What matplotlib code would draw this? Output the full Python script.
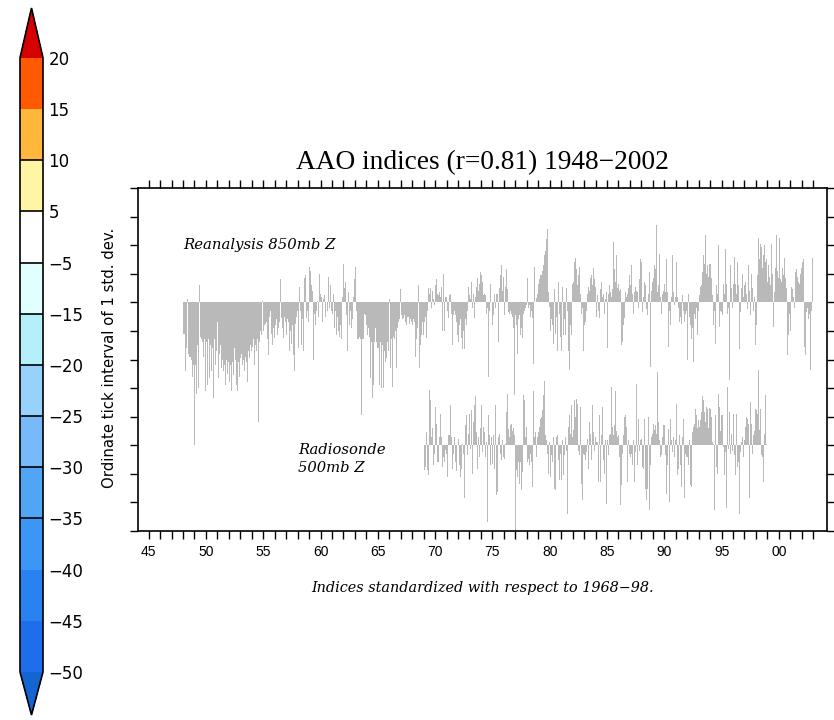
import numpy as np
import matplotlib
matplotlib.use("Agg")
import matplotlib.pyplot as plt
from matplotlib.colors import ListedColormap, BoundaryNorm
from matplotlib.cm import ScalarMappable

# ---------------- data ----------------
reanalysis_start_year = 1948
reanalysis_850mb = [
    # 1948
    -1.1, -1.1, -2.4, -1.6, 0.1, -1.8, -1.9, -1.9, -2.0, -2.6, -2.2, -3.6,
    # 1949
    -5.0, -2.2, -3.2, -1.5, -3.0, 0.6, -1.2, -1.3, -1.4, -1.9, -1.3, -3.1,
    # 1950
    -1.4, -2.9, -1.3, -2.65, -1.5, -2.4, -1.6, -3.35, -1.3, -1.15, -2.2, -1.7,
    # 1951
    -0.7, -2.65, -1.8, -1.5, -2.3, -2.0, -2.4, -2.2, -2.9, -2.0, -2.5, -2.1,
    # 1952
    -2.8, -2.2, -3.1, -2.1, -2.55, -1.6, -2.0, -2.9, -2.3, -3.1, -2.1, -2.6,
    # 1953
    -1.95, -1.8, -2.2, -2.0, -2.4, -1.9, -2.1, -2.8, -1.7, -1.95, -1.5, -1.7,
    # 1954
    -1.55, -1.3, -2.2, -1.5, -1.7, -1.3, -1.2, -4.2, -1.4, -1.0, -1.15, 0.05,
    # 1955
    -1.0, -0.8, -0.75, -0.7, -1.3, -1.85, -0.5, -0.3, -1.1, -1.5, -0.9, -1.25,
    # 1956
    -0.8, -0.6, -1.15, -0.9, -1.4, -0.7, 0.8, -0.55, -0.9, -1.25, -0.5, -0.7,
    # 1957
    -1.15, -0.6, -0.7, -1.7, -1.0, -1.45, -0.8, -1.85, -2.4, -0.75, -0.5, -0.3,
    # 1958
    -1.6, 0.55, -0.45, -0.3, -1.5, -0.6, -1.7, 0.85, 0.95, -0.55, -0.3, -0.7,
    # 1959
    1.25, 1.1, 0.6, 0.4, -2.0, -0.4, -0.8, -0.3, 0.05, -0.5, 1.0, 0.3,
    # 1960
    0.4, 0.2, -0.7, 0.1, 0.25, -0.5, 0.0, -0.3, 0.9, -0.2, 0.6, -0.3,
    # 1961
    -0.4, 0.3, -0.9, -0.3, -1.15, -0.5, -1.0, -1.2, -0.8, -1.3, -1.3, 0.2,
    # 1962
    1.35, 0.5, 0.7, -0.45, -1.7, 0.35, -0.8, -0.3, -0.9, -0.6, 0.2, 0.8,
    # 1963
    1.25, -0.3, -1.3, -1.3, -1.2, -1.3, -3.95, -1.3, -1.3, -1.3, -0.4, -0.45,
    # 1964
    -0.8, -1.15, -0.9, -1.2, -2.65, -1.4, -3.35, -2.9, -1.4, -0.9, -1.4, -1.6,
    # 1965
    -1.6, -2.9, -1.4, -3.0, -1.5, -3.0, -1.7, -1.5, -2.1, -1.95, -1.4, -1.7,
    # 1966
    0.1, -2.3, -1.3, -2.95, -1.2, -1.3, -1.0, -2.3, -0.9, -0.7, -0.6, 0.45,
    # 1967
    -0.45, -0.6, -0.55, -0.45, -0.7, -0.65, -0.8, -0.5, -0.5, -0.75, -0.6, -0.7,
    # 1968
    -0.8, -0.6, -0.7, -1.9, -1.3, -0.9, 0.6, -2.3, -1.5, -1.15, -0.7, -1.15,
    # 1969
    -0.7, -0.5, -1.25, -0.8, -0.3, 0.5, 0.3, 0.5, -0.2, 0.4, 0.1, -0.1,
    # 1970
    0.6, 0.8, 0.3, 0.25, 0.35, 0.2, 0.55, -1.0, 1.0, -1.0, 0.2, 0.2,
    # 1971
    -0.3, -0.2, -0.55, 0.25, 0.3, -0.4, -1.5, -0.45, -0.3, -0.45, -0.7, -1.15,
    # 1972
    -1.4, -0.8, -0.6, -1.25, -1.65, -1.0, -1.65, -0.6, -0.8, -0.3, 0.55, -1.0,
    # 1973
    0.25, 0.1, 0.7, -0.2, 0.3, -0.55, 0.2, 0.55, 0.85, 0.4, 0.65, 1.05,
    # 1974
    0.95, 0.7, 0.25, 0.3, 0.25, -0.4, -0.2, -2.6, -0.3, 0.65, 0.3, 0.0,
    # 1975
    -0.8, -0.45, 0.3, -0.2, 0.3, 0.3, -1.4, 0.5, 0.95, 1.3, 0.4, 0.9,
    # 1976
    -0.45, 0.55, 1.15, 0.45, -0.35, -0.4, -0.3, -0.4, -0.55, -0.5, -0.9, -3.25,
    # 1977
    -0.45, -0.8, -1.8, -0.6, -0.45, -1.15, -0.9, -1.25, -0.4, -0.3, -0.2, -0.1,
    # 1978
    0.85, -0.2, -0.1, -0.5, -0.3, -0.55, -0.4, -2.15, 1.25, 0.0, 0.15, 0.3,
    # 1979
    0.65, 0.8, 0.95, 0.95, 1.1, 1.3, 1.65, 1.8, 2.2, 2.55, 0.35, -0.15,
    # 1980
    -1.0, -0.6, -0.8, -1.45, -1.55, 0.45, -1.1, -0.5, -1.7, 0.7, -0.4, -1.2,
    # 1981
    -1.7, 0.55, -1.15, -0.6, -1.15, 0.5, -0.3, -1.7, -2.35, -0.8, -1.15, 0.65,
    # 1982
    0.7, 1.4, 1.3, 1.55, 1.15, 0.6, 0.95, 1.25, 0.3, -0.4, -0.2, -1.7,
    # 1983
    -0.8, -0.7, -0.3, 0.3, 0.55, 0.4, 0.85, 0.95, 0.6, 1.2, 0.8, 0.55,
    # 1984
    -0.45, -0.5, 0.25, -0.3, -0.55, 0.45, 0.7, 0.2, 0.3, -0.4, 0.1, 0.35,
    # 1985
    -1.6, 0.3, 0.6, 0.35, 0.2, 0.45, 2.1, 1.15, 0.7, 1.65, 0.5, 0.95,
    # 1986
    0.65, 0.4, 0.45, -1.5, -1.4, -0.8, -0.55, 0.35, 0.2, 0.3, 0.5, 0.95,
    # 1987
    0.6, 1.3, 0.3, -0.4, 0.35, 0.55, 0.4, 0.35, -0.2, 1.3, 0.8, 1.5,
    # 1988
    1.4, -0.35, 0.2, 0.7, 0.6, -0.25, -0.45, 0.3, 1.05, -2.25, 0.4, 0.7,
    # 1989
    0.85, 1.3, 1.15, 2.7, 0.35, 0.6, 1.7, 0.5, 0.2, -0.4, 0.3, 0.4,
    # 1990
    0.65, 0.35, 1.5, 0.35, -1.55, -0.3, -0.8, 0.2, 1.65, 0.35, -0.1, 0.2,
    # 1991
    1.4, 0.2, -0.2, -0.7, -0.5, -0.7, -0.75, 0.25, -0.3, -0.7, -0.4, -0.3,
    # 1992
    -2.0, 0.3, -0.5, -0.8, -1.3, -0.9, -2.1, -0.4, -0.6, -0.2, -1.15, -0.3,
    # 1993
    0.25, 0.55, 0.6, 0.8, 1.05, 1.65, 1.35, 2.35, 1.0, 1.3, 0.9, 1.35,
    # 1994
    1.35, 0.85, 0.25, -0.8, -0.3, -1.45, 0.6, 0.3, 2.0, -0.85, -0.3, -0.35,
    # 1995
    -0.45, 1.9, 0.65, 0.3, 1.85, 0.65, -0.4, -0.2, -2.7, 1.3, 0.5, -0.2,
    # 1996
    0.65, 1.6, 0.65, 0.3, 1.4, 0.6, -1.65, -0.35, 0.5, 1.0, 0.2, -1.3,
    # 1997
    0.6, 0.7, 0.3, -0.25, 1.3, 0.4, -0.45, 1.0, 0.5, -0.3, 0.2, -1.5,
    # 1998
    -0.8, 0.95, 2.25, 1.5, 2.05, 1.95, 1.2, 1.65, 2.0, 1.4, 1.85, 1.5,
    # 1999
    0.7, 1.3, 0.9, 0.6, 2.05, 1.0, -0.85, 0.35, 1.2, 2.35, 1.1, 0.85,
    # 2000
    2.25, 0.8, 0.7, 1.2, 0.95, 1.55, 0.85, 0.5, -0.2, -1.85, -1.15, -0.4,
    # 2001
    -1.0, 0.55, 0.45, 0.2, -0.2, 1.05, 1.15, 0.9, 0.7, 0.65, 1.0, 1.2,
    # 2002
    1.4, 1.5, -1.55, -1.85, -0.35, -0.2, -0.7, -0.6, -0.4, -2.35, -0.3, 1.55,
]

radiosonde_start_year = 1969
radiosonde_500mb = [
    # 1969
    -0.87, -0.76, 0.47, 0.29, -0.87, -1.05, 1.92, 1.57, 0.29, 0.6, -0.7, -0.3,
    # 1970
    1.34, 0.76, -0.58, -0.58, 0.29, 1.1, 0.3, -0.76, -0.41, -0.6, -0.17, -0.3,
    # 1971
    -1.1, -0.7, 0.35, 0.35, 1.4, 0.29, -0.82, -0.3, 0.29, -0.58, -0.9, 0.0,
    # 1972
    0.23, -0.7, -1.1, -0.82, 0.05, -0.3, -1.86, 0.7, 1.05, -0.35, 0.4, 0.1,
    # 1973
    1.1, -0.12, 1.22, -1.0, 0.82, 1.4, 1.72, 0.47, -0.82, 0.3, -0.4, 0.6,
    # 1974
    1.4, -0.23, 0.64, 0.47, -0.41, 0.12, -2.68, 1.05, 0.35, -0.7, -0.5, 0.3,
    # 1975
    -0.64, 0.35, -0.82, 1.4, -1.75, -1.63, 0.29, 0.4, -0.29, -0.5, 0.2, -0.4,
    # 1976
    -0.47, 0.05, 1.17, 1.8, 0.58, 0.29, 0.7, 0.76, 0.35, 0.5, 0.6, 0.35,
    # 1977
    -3.0, -0.87, -1.1, -0.58, -1.34, -0.6, -1.57, -0.93, 1.77, 1.57, 0.3, 0.64,
    # 1978
    -0.58, -0.47, -0.7, -0.3, -0.58, -1.46, -0.8, 1.89, 0.29, 0.47, -0.4, 0.3,
    # 1979
    0.47, 0.64, 0.93, 0.99, 1.22, 1.75, 2.24, 0.35, 0.2, -0.29, -0.99, 0.1,
    # 1980
    -1.1, -0.35, -0.58, 0.29, 1.28, -1.52, -1.57, 0.29, 0.35, -0.5, -1.22, -0.3,
    # 1981
    -1.22, 0.17, -1.05, -0.35, 0.29, -0.2, -2.39, 0.64, 1.05, 0.4, 1.4, 0.3,
    # 1982
    0.52, 1.57, 1.65, 1.0, 1.63, 1.46, -0.2, -0.35, 1.34, -1.34, -1.92, -0.3,
    # 1983
    -0.35, -0.52, -0.23, 0.23, -0.82, 0.82, 0.4, -0.52, 1.4, 0.47, -0.2, 0.3,
    # 1984
    -0.58, 0.12, 0.12, -1.28, 1.07, -1.28, 0.35, 1.34, -0.5, -0.99, 0.2, -2.04,
    # 1985
    0.17, -0.35, 0.35, 0.4, 2.04, 0.64, 0.35, 0.7, 1.89, 0.5, 0.3, 0.35,
    # 1986
    0.35, -0.41, -2.1, -1.4, -0.29, 0.35, 0.99, 1.05, 0.64, -1.28, 0.2, -0.3,
    # 1987
    -0.41, -0.29, -0.7, 0.17, -1.28, -0.23, 2.16, -0.7, 0.93, 0.4, -0.2, 0.2,
    # 1988
    0.23, -0.76, -0.82, 0.93, -1.52, -1.92, -1.52, 0.99, -2.27, -0.7, 0.3, 0.4,
    # 1989
    0.76, 0.52, 0.7, 0.4, 2.56, 0.82, 0.17, -0.23, -0.41, -0.35, 0.3, 0.7,
    # 1990
    0.7, -0.35, -1.69, -0.7, 0.58, -1.98, 0.93, 0.17, -0.23, 0.3, -0.4, 0.2,
    # 1991
    1.45, -1.05, -0.82, 0.35, -0.7, -0.58, -1.46, 0.29, 0.93, -1.86, -0.3, -0.41,
    # 1992
    -0.41, -0.7, 0.17, -1.4, -1.46, 0.47, 0.64, 0.76, 1.28, 1.05, 0.6, 0.9,
    # 1993
    0.64, 0.87, 1.17, 1.46, 1.72, 1.57, 1.17, 0.82, 1.34, 1.28, 0.6, 1.3,
    # 1994
    1.28, 0.99, 0.12, 0.05, -2.27, 1.05, -0.76, -0.99, 1.8, 1.34, 0.5, 1.05,
    # 1995
    1.05, 0.58, -0.06, -1.05, -0.23, -2.21, 2.04, -0.12, 1.17, -0.29, 0.4, -0.2,
    # 1996
    1.1, -0.35, -1.05, 1.1, -0.76, -0.58, -2.39, -0.23, 0.12, 0.3, -0.4, 0.17,
    # 1997
    0.17, 0.64, 0.99, 0.93, 0.76, -1.86, 1.52, 0.76, -0.29, 0.35, 0.5, 1.28,
    # 1998
    1.22, 1.1, 2.62, 0.52, 1.28, -0.35, -0.41, -1.28, 0.4, 1.75, 0.3, 0.05,
]

# colourbar
cbar_levels = [-50, -45, -40, -35, -30, -25, -20, -15, -5, 5, 10, 15, 20]
cbar_colors = ["#1e6eeb", "#2882f0", "#3c96f5", "#50a5f5", "#78b9fa", "#96d2fa",
               "#b4f0fa", "#e1ffff", "#ffffff", "#fff5a5", "#ffb83c", "#ff5a00"]
cbar_under = "#1464d2"
cbar_over = "#d70000"
cbar_divider_levels = [10, 5, -5, -15, -20, -25, -30, -35]

xtick_years = [1945, 1950, 1955, 1960, 1965, 1970, 1975, 1980, 1985, 1990, 1995, 2000]
xtick_labels = ["45", "50", "55", "60", "65", "70", "75", "80", "85", "90", "95", "00"]

title_text = "AAO indices (r=0.81) 1948\u22122002"
xlabel_text = "Indices standardized with respect to 1968\u221298."
ylabel_text = "Ordinate tick interval of 1 std. dev."

# ---------------- figure ----------------
W, H = 834, 720
fig = plt.figure(figsize=(W / 100, H / 100), dpi=100)


def fx(px):
    return px / W


def fy(py):
    return 1 - py / H


# colourbar axis (including triangles)
cax = fig.add_axes([fx(20), fy(715), fx(23), (715 - 8) / H])
cmap = ListedColormap(cbar_colors).with_extremes(under=cbar_under, over=cbar_over)
norm = BoundaryNorm(cbar_levels, cmap.N)
cb = fig.colorbar(ScalarMappable(norm=norm, cmap=cmap), cax=cax, extend="both",
                  extendfrac=[0.07, 0.081], ticks=cbar_levels, spacing="uniform")
cb.outline.set_linewidth(1.2)
cb.ax.tick_params(length=0, labelsize=12, pad=4)
for lev in cbar_divider_levels:
    cb.ax.axhline(lev, color="black", linewidth=1.2)

# main axis
ax = fig.add_axes([fx(138), fy(531), fx(827) - fx(138), (531 - 188) / H])
ax.set_xlim(1944.07, 2004.2)
ax.set_ylim(0, 12)

bar_color = "#b9b9b9"
re = np.array(reanalysis_850mb)
rx = reanalysis_start_year + (np.arange(len(re)) + 0.5) / 12
ax.bar(rx, re, bottom=8, width=1 / 12, color=bar_color, linewidth=0)

rs = np.array(radiosonde_500mb)
sx = radiosonde_start_year + (np.arange(len(rs)) + 0.5) / 12
ax.bar(sx, rs, bottom=3, width=1 / 12, color=bar_color, linewidth=0)

ax.set_xticks(xtick_years)
ax.set_xticklabels(xtick_labels, fontfamily="Liberation Sans", fontsize=10)
ax.set_xticks(np.arange(1945, 2004), minor=True)
ax.set_yticks(np.arange(0, 13))
ax.set_yticklabels([])
ax.tick_params(which="both", direction="out", top=True, right=True,
               length=6, width=1, pad=4)
for s in ax.spines.values():
    s.set_linewidth(1.2)

ax.text(1948.0, 10.0, "Reanalysis 850mb Z", fontfamily="DejaVu Serif",
        style="italic", fontsize=10.7, ha="left", va="center")
ax.text(1958.05, 2.84, "Radiosonde", fontfamily="DejaVu Serif",
        style="italic", fontsize=10.6, ha="left", va="center")
ax.text(1958.05, 2.21, "500mb Z", fontfamily="DejaVu Serif",
        style="italic", fontsize=10.6, ha="left", va="center")

fig.text(fx(482), fy(163), title_text, fontfamily="Liberation Serif",
         fontsize=19.7, ha="center", va="center")
fig.text(fx(483), fy(588), xlabel_text, fontfamily="DejaVu Serif",
         style="italic", fontsize=10.4, ha="center", va="center")
fig.text(fx(110), fy(358), ylabel_text, fontfamily="DejaVu Sans",
         fontsize=10.7, rotation=90, ha="center", va="center")

fig.savefig("out.png", dpi=100)
